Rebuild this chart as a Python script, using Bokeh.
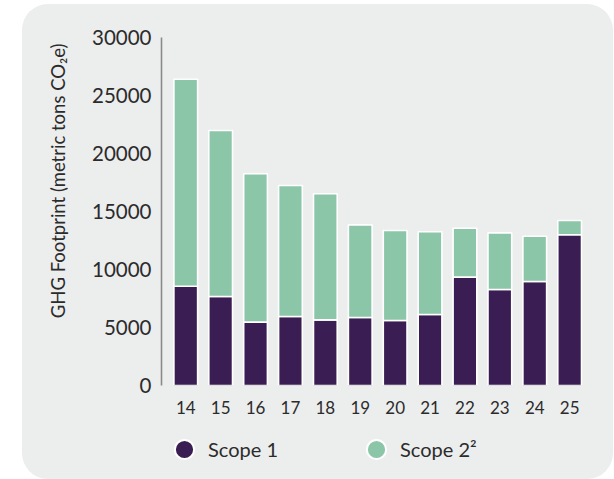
from bokeh.plotting import figure
from bokeh.layouts import column
from bokeh.models import (Range1d, FixedTicker, Legend, LegendItem, Title,
                          ColumnDataSource)
from bokeh.embed import file_html
from bokeh.resources import INLINE

years = [14, 15, 16, 17, 18, 19, 20, 21, 22, 23, 24, 25]
year_labels = ["14", "15", "16", "17", "18", "19", "20", "21", "22", "23", "24", "25"]
scope1 = [8560, 7670, 5460, 5950, 5660, 5860, 5600, 6120, 9340, 8280, 8970, 12990]
scope2 = [17840, 14310, 12790, 11290, 10870, 7990, 7760, 7130, 4220, 4880, 3900, 1230]
y_ticks = [0, 5000, 10000, 15000, 20000, 25000, 30000]
series_names = ["Scope 1", "Scope 2\u00b2"]
y_title = "GHG Footprint (metric tons CO\u2082e)"

PURPLE = "#3a1d52"
GREEN = "#8cc6a8"
TEXT = "#2b2b2b"
PANEL = "#eceded"
FONT = "Lato"

x0, x1 = 13.305, 25.626
p = figure(width=614, height=430, output_backend="svg", toolbar_location=None,
           x_range=Range1d(x0, x1), y_range=Range1d(0, 30000),
           min_border_left=161, min_border_right=23, min_border_top=37,
           min_border_bottom=45)
p.border_fill_color = None
p.background_fill_color = None
p.outline_line_color = None
p.grid.visible = False

src = ColumnDataSource(dict(x=years, s1=scope1, s2=scope2))
p.vbar_stack(["s1", "s2"], x="x", width=0.68, source=src,
             color=[PURPLE, GREEN], line_color="white", line_width=1.6)

# axes
p.yaxis.ticker = FixedTicker(ticks=y_ticks)
p.yaxis.bounds = (0, 30000)
p.yaxis.axis_line_color = "#8a8a8a"
p.yaxis.axis_line_width = 1.6
p.yaxis.major_tick_line_color = None
p.yaxis.minor_tick_line_color = None
p.yaxis.major_label_standoff = 4
p.yaxis.major_label_text_font = FONT
p.yaxis.major_label_text_font_size = "20.5px"
p.yaxis.major_label_text_color = TEXT

p.xaxis.ticker = FixedTicker(ticks=years)
p.xaxis.major_label_overrides = {y: l for y, l in zip(years, year_labels)}
p.xaxis.axis_line_color = None
p.xaxis.major_tick_line_color = None
p.xaxis.minor_tick_line_color = None
p.xaxis.major_label_standoff = 9
p.xaxis.major_label_text_font = FONT
p.xaxis.major_label_text_font_size = "17px"
p.xaxis.major_label_text_color = TEXT

# y title (left panel, aligned to the top of the frame)
p.add_layout(Title(text=y_title, align="right", offset=6, standoff=41,
                   text_font=FONT, text_font_size="18.5px", text_color=TEXT,
                   text_font_style="normal"), "left")

# legend strip below the chart
lf = figure(width=614, height=49, output_backend="svg", toolbar_location=None,
            x_range=Range1d(0, 1), y_range=Range1d(0, 1),
            x_axis_location=None, y_axis_location=None,
            min_border_left=0, min_border_right=0, min_border_top=0, min_border_bottom=0)
lf.border_fill_color = None
lf.background_fill_color = None
lf.outline_line_color = None
lf.grid.visible = False
dots = []
for c in [PURPLE, GREEN]:
    dots.append(lf.scatter(x=[-5], y=[-5], marker="circle", size=13, fill_color=c,
                           line_color="white", line_width=2))
legend = Legend(items=[LegendItem(label=n, renderers=[d]) for n, d in zip(series_names, dots)],
                location=(-1, 6), orientation="horizontal",
                glyph_width=48, glyph_height=48, label_standoff=0, label_width=144,
                spacing=0, padding=0, margin=0,
                label_text_font=FONT, label_text_font_size="20px",
                label_text_color=TEXT, label_text_baseline="middle",
                background_fill_alpha=0, border_line_alpha=0)
lf.add_layout(legend, "center")

layout = column(p, lf, spacing=0)
layout.styles = {"background-color": PANEL,
                 "clip-path": "inset(4px 1px 0px 22px round 26px)"}

open("out.html", "w").write(file_html(layout, INLINE))
